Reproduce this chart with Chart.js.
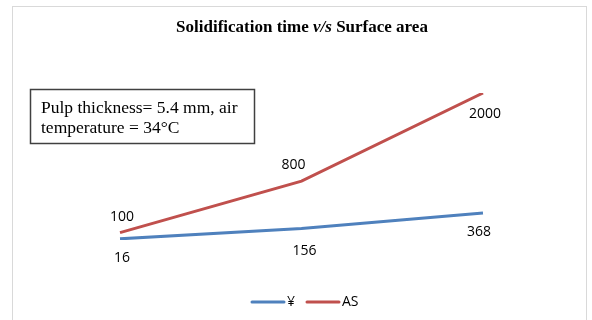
<!DOCTYPE html>
<html>
<head>
<meta charset="utf-8">
<script src="https://cdn.jsdelivr.net/npm/chart.js@4"></script>
<style>
    body { margin: 0; background: #fff; }
</style>
</head>
<body>
<canvas id="myChart" width="592" height="320"></canvas>
<script>
const categories = ['1', '2', '3'];
const yenValues = [16, 156, 368];
const asValues = [100, 800, 2000];
const seriesNames = ['¥', 'AS'];
const titleParts = [['Solidification time ', 'bold'], ['v/s', 'italic bold'], [' Surface area', 'bold']];
const noteLines = ['Pulp thickness= 5.4 mm, air', 'temperature = 34\u00B0C'];

// where each data label sits relative to its point
const labelOffsets = [
    [[2, 19], [3, 22], [-4, 19]],
    [[2, -16], [-8, -16], [2, 21]]
];

const labelFont = '14px "Open Sans"';

const decorations = {
    id: 'decorations',
    afterDraw(chart) {
        const ctx = chart.ctx;
        ctx.save();

        // outer frame
        ctx.strokeStyle = '#d9d9d9';
        ctx.lineWidth = 1;
        ctx.strokeRect(12.5, 6.5, 574, 330);

        // title
        ctx.fillStyle = '#000';
        ctx.textBaseline = 'alphabetic';
        ctx.textAlign = 'left';
        let total = 0;
        titleParts.forEach(function (p) {
            ctx.font = p[1] + ' 17px "Liberation Serif"';
            total += ctx.measureText(p[0]).width;
        });
        let x = 302 - total / 2;
        titleParts.forEach(function (p) {
            ctx.font = p[1] + ' 17px "Liberation Serif"';
            ctx.fillText(p[0], x, 32);
            x += ctx.measureText(p[0]).width;
        });

        // note box
        ctx.strokeStyle = '#404040';
        ctx.lineWidth = 1.5;
        ctx.strokeRect(30.5, 89.5, 224, 54);
        ctx.font = '17.5px "Liberation Serif"';
        noteLines.forEach(function (t, i) {
            ctx.fillText(t, 41, 113 + i * 20);
        });

        // data labels
        ctx.font = labelFont;
        ctx.textAlign = 'center';
        ctx.textBaseline = 'middle';
        chart.data.datasets.forEach(function (ds, i) {
            chart.getDatasetMeta(i).data.forEach(function (pt, j) {
                const off = labelOffsets[i][j];
                ctx.fillText(String(ds.data[j]), pt.x + off[0], pt.y + off[1]);
            });
        });

        // legend
        let lx = 252;
        const ly = 302;
        ctx.textAlign = 'left';
        chart.data.datasets.forEach(function (ds) {
            ctx.strokeStyle = ds.borderColor;
            ctx.lineWidth = 3;
            ctx.lineCap = 'round';
            ctx.beginPath();
            ctx.moveTo(lx, ly);
            ctx.lineTo(lx + 32, ly);
            ctx.stroke();
            ctx.fillText(ds.label, lx + 35, ly);
            lx += 35 + ctx.measureText(ds.label).width + 12;
        });

        ctx.restore();
    }
};

const ctx = document.getElementById('myChart');

const myChart = new Chart(ctx, {
    type: 'line',
    data: {
        labels: categories,
        datasets: [{
            label: seriesNames[0],
            data: yenValues,
            borderColor: '#4f81bd',
            borderWidth: 3,
            pointRadius: 0,
            tension: 0
        }, {
            label: seriesNames[1],
            data: asValues,
            borderColor: '#c0504d',
            borderWidth: 3,
            pointRadius: 0,
            tension: 0
        }]
    },
    options: {
        responsive: false,
        animation: false,
        devicePixelRatio: 1,
        layout: {
            padding: { left: 120, right: 109, top: 93, bottom: 80 }
        },
        scales: {
            x: { display: false, offset: false },
            y: { display: false, min: 0, max: 2000 }
        },
        plugins: {
            legend: { display: false },
            title: { display: false },
            tooltip: { enabled: false }
        }
    },
    plugins: [decorations]
});
</script>
</body>
</html>
